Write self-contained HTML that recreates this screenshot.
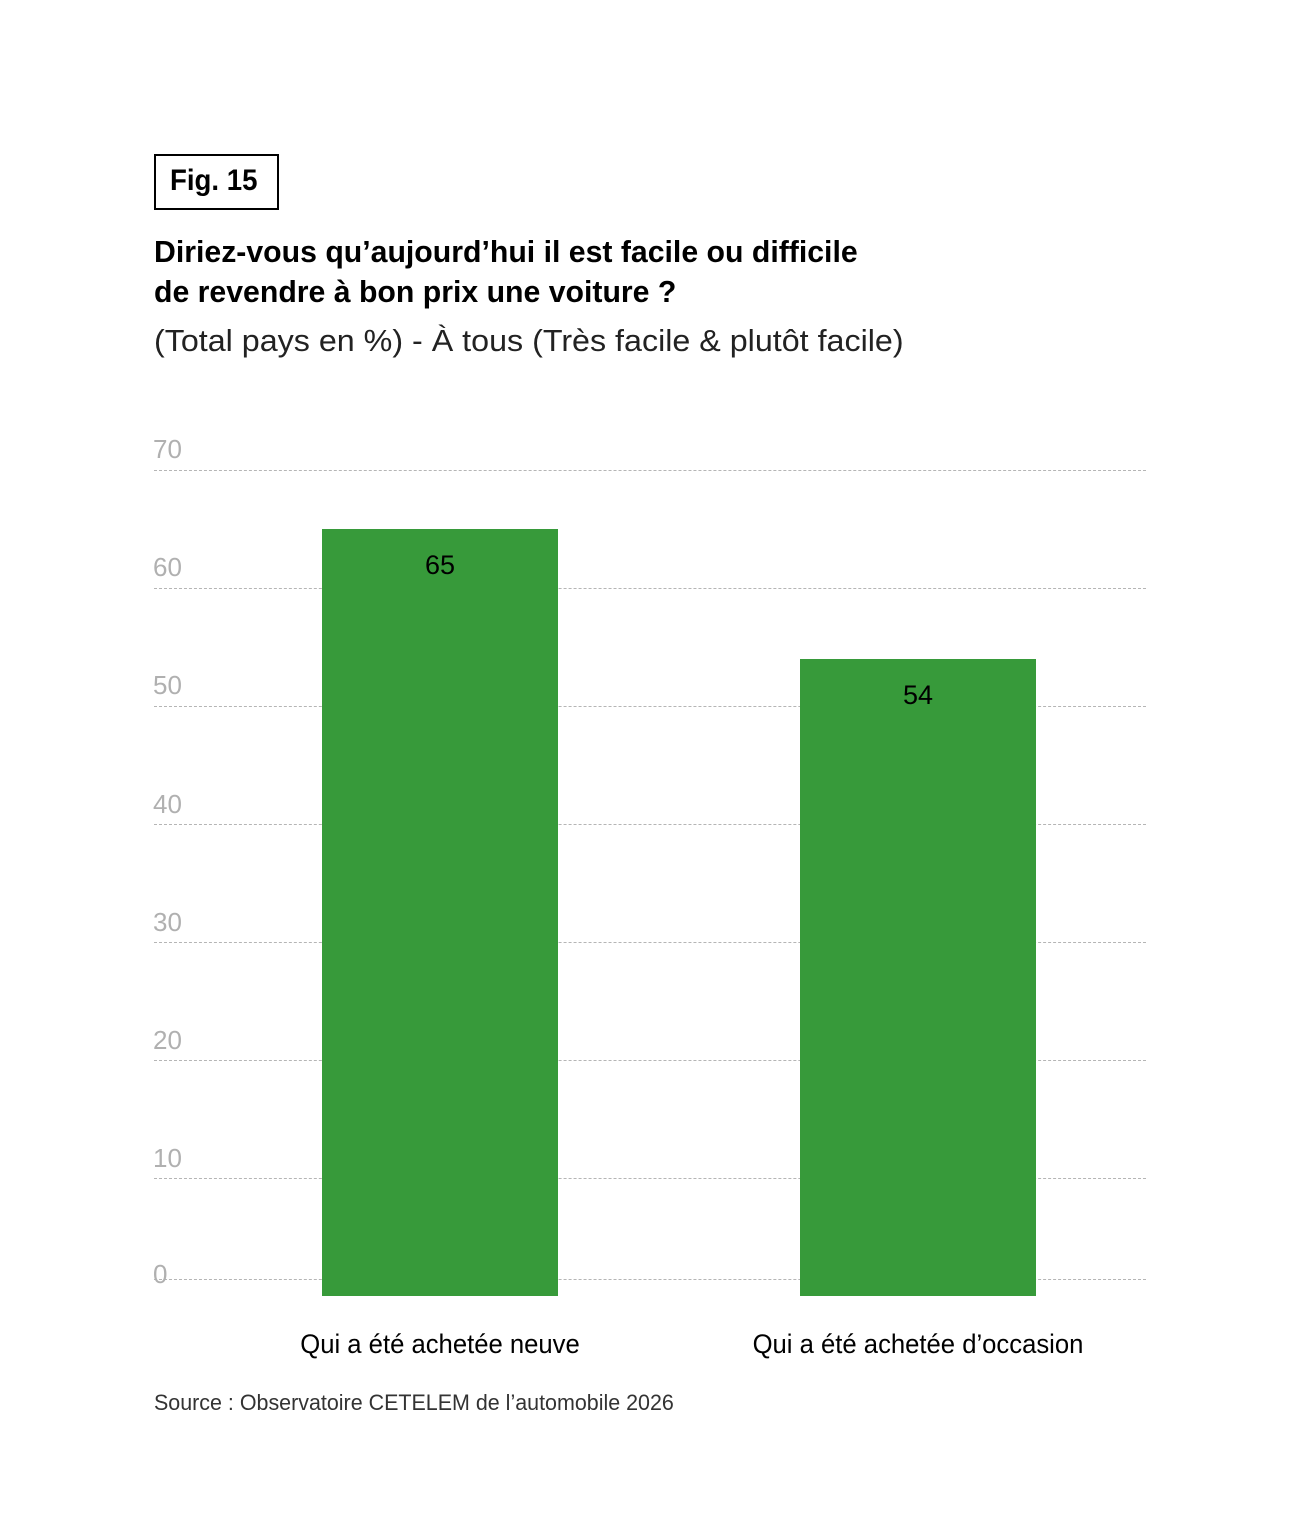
<!DOCTYPE html>
<html><head><meta charset="utf-8"><style>
body{margin:0;background:#fff;width:1299px;height:1535px;position:relative;font-family:"Liberation Sans",sans-serif;overflow:hidden}
.a{position:absolute;white-space:nowrap}
.grid{position:absolute;left:154px;width:992px;border-top:1px dashed #b5b5b5;height:0}
.yl{position:absolute;left:153px;font-size:26px;color:#b0b0b0;line-height:1}
.bar{position:absolute;background:#379a3a}
</style></head><body>
<div class="a" style="left:154px;top:154px;border:2px solid #000;box-sizing:content-box;width:121px;height:52px"></div>
<div class="a" style="left:170px;top:164px;font-size:30px;font-weight:bold;transform:scaleX(0.92);transform-origin:left">Fig. 15</div>
<div class="a" style="left:154px;top:232px;font-size:31px;font-weight:bold;line-height:40px;transform:scaleX(0.975);transform-origin:left">Diriez-vous qu’aujourd’hui il est facile ou difficile<br>de revendre à bon prix une voiture ?</div>
<div class="a" style="left:154px;top:323px;font-size:31px;color:#222;transform:scaleX(1.04);transform-origin:left">(Total pays en %) - À tous (Très facile &amp; plutôt facile)</div>

<div class="grid" style="top:470px"></div>
<div class="grid" style="top:588px"></div>
<div class="grid" style="top:706px"></div>
<div class="grid" style="top:824px"></div>
<div class="grid" style="top:942px"></div>
<div class="grid" style="top:1060px"></div>
<div class="grid" style="top:1178px"></div>
<div class="grid" style="top:1279px"></div>
<div class="yl" style="top:436px">70</div>
<div class="yl" style="top:554px">60</div>
<div class="yl" style="top:672px">50</div>
<div class="yl" style="top:791px">40</div>
<div class="yl" style="top:909px">30</div>
<div class="yl" style="top:1027px">20</div>
<div class="yl" style="top:1145px">10</div>
<div class="yl" style="top:1261px">0</div>

<div class="bar" style="left:322px;top:529px;width:236px;height:767px"></div>
<div class="bar" style="left:800px;top:659px;width:236px;height:637px"></div>
<div class="a" style="left:322px;width:236px;text-align:center;top:550px;font-size:27px">65</div>
<div class="a" style="left:800px;width:236px;text-align:center;top:680px;font-size:27px">54</div>

<div class="a" style="left:240px;width:400px;text-align:center;top:1329px;font-size:27px;transform:scaleX(0.95)">Qui a été achetée neuve</div>
<div class="a" style="left:718px;width:400px;text-align:center;top:1329px;font-size:27px;transform:scaleX(0.95)">Qui a été achetée d’occasion</div>
<div class="a" style="left:154px;top:1390px;font-size:22px;color:#333;transform:scaleX(0.975);transform-origin:left">Source : Observatoire CETELEM de l’automobile 2026</div>
</body></html>
